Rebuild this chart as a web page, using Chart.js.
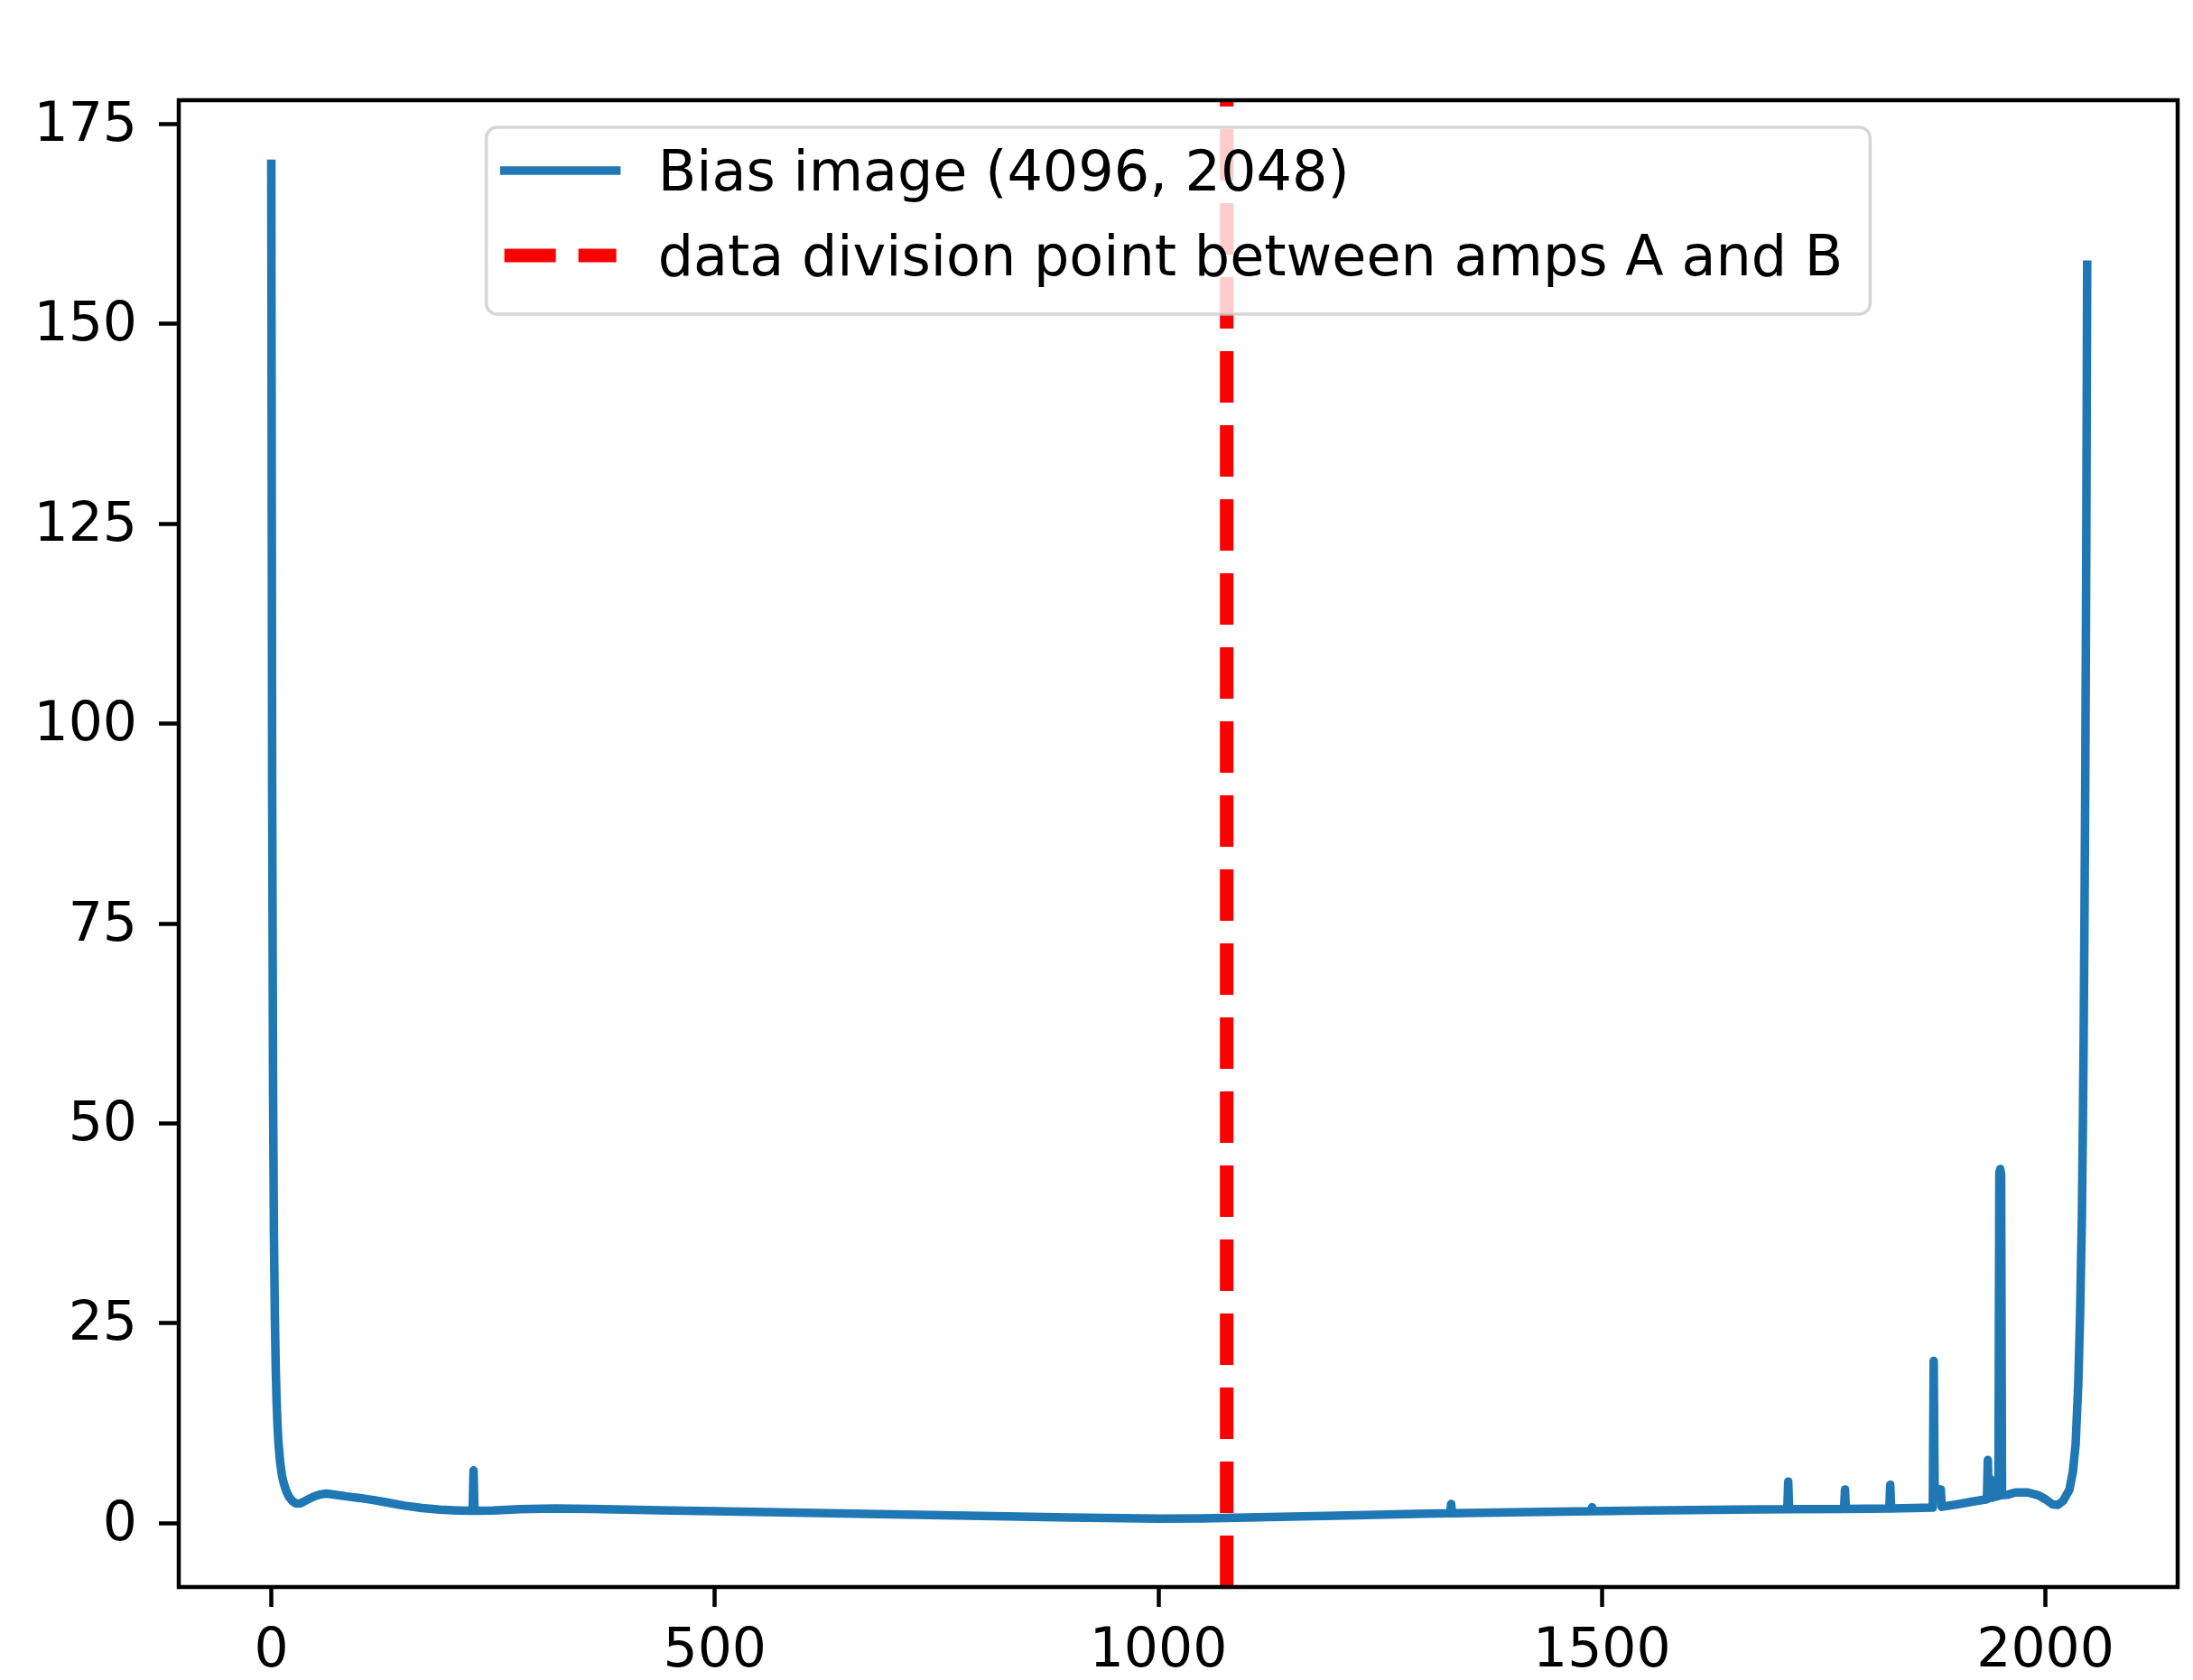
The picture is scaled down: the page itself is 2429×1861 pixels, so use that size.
<!DOCTYPE html>
<html>
<head>
<meta charset="utf-8">
<title>Bias image column profile</title>
<script src="https://cdn.jsdelivr.net/npm/chart.js@4.4.0/dist/chart.umd.min.js"></script>
<style>
body{margin:0;background:#fff;}
canvas{display:block;}
</style>
</head>
<body>
<canvas id="bias-chart" width="2429" height="1861"></canvas>
<script>
//column index along the 2048 axis of the bias frame
var columns=[0,1,2,3,4,5,6,7,8,10,12,14,17,20,24,28,33,40,48,55,62,70,85,100,115,130,150,170,190,210,
    227,228,229,250,280,320,360,400,450,500,600,700,800,900,1000,1050,1100,1200,1300,
    1329,1330,1331,1400,1488,1489,1490,1550,1650,1709,1710,1711,1773,1774,1775,1824,1825,1826,1850,
    1873,1874,1875,1882,1883,1900,1920,1934,1935,1936,1938,1940,1947,1948,1949,1950,1951,
    1957,1966,1980,1992,2000,2008,2014,2020,2027,2031,2034,2037,2039,2041,2042,2043,2044,2045,2046,2047];
//mean bias counts of each column
var meanCounts=[170.0,92,54,36,26,19.5,15.2,12.3,10.2,7.6,6.0,5.0,4.0,3.3,2.75,2.45,2.5,2.9,3.35,3.6,3.7,3.6,3.35,3.15,2.9,2.6,2.2,1.9,1.7,1.6,
    1.55,6.6,1.55,1.6,1.75,1.85,1.8,1.7,1.6,1.5,1.3,1.1,0.9,0.7,0.58,0.6,0.72,0.95,1.2,
    1.25,2.4,1.25,1.35,1.5,2.0,1.5,1.6,1.7,1.75,5.2,1.75,1.8,4.2,1.8,1.85,4.8,1.85,1.9,
    1.95,20.3,4.4,4.2,2.05,2.35,2.75,3.0,7.9,3.1,5.5,3.2,3.4,43.8,44.3,43.6,3.5,
    3.55,3.85,3.85,3.5,3.0,2.35,2.3,2.8,4.2,6.5,9.9,17.5,26,38,48,60,76,96,122,157.4];
//column where the readout switches from amp A to amp B
var divisionColumn=1077;

var xTicks=[0,500,1000,1500,2000];
var yTicks=[0,25,50,75,100,125,150,175];
var xRange=[-104.3,2149];
var yRange=[-7.98,177.97];

var fontFamily='"DejaVu Sans", sans-serif';

//pair up columns and counts for the line
function biasPoints(){
    var pts=[];
    for(var i=0;i<columns.length;i++){
        pts.push({x:columns[i],y:meanCounts[i]});
    }
    return pts;
}

//rounded rectangle path for the legend box
function roundRect(ctx,x,y,w,h,r){
    ctx.beginPath();
    ctx.moveTo(x+r,y);
    ctx.lineTo(x+w-r,y);
    ctx.arcTo(x+w,y,x+w,y+r,r);
    ctx.lineTo(x+w,y+h-r);
    ctx.arcTo(x+w,y+h,x+w-r,y+h,r);
    ctx.lineTo(x+r,y+h);
    ctx.arcTo(x,y+h,x,y+h-r,r);
    ctx.lineTo(x,y+r);
    ctx.arcTo(x,y,x+r,y,r);
    ctx.closePath();
}

//box around the plot area, then the legend on top of it
var frameAndLegend={
    id:'frameAndLegend',
    afterDatasetsDraw:function(chart){
        var ctx=chart.ctx;
        var area=chart.chartArea;
        ctx.save();
        ctx.lineWidth=4.5;
        ctx.strokeStyle='#000';
        ctx.strokeRect(area.left,area.top,area.right-area.left,area.bottom-area.top);

        var sets=chart.data.datasets;
        ctx.font='62px '+fontFamily;
        var maxW=0;
        for(var i=0;i<sets.length;i++){
            maxW=Math.max(maxW,ctx.measureText(sets[i].label).width);
        }
        var boxW=190+maxW+30;
        var boxH=207;
        var left=(area.left+area.right)/2-boxW/2;
        var top=area.top+30;
        roundRect(ctx,left,top,boxW,boxH,12);
        ctx.fillStyle='rgba(255,255,255,0.8)';
        ctx.fill();
        ctx.lineWidth=3.5;
        ctx.strokeStyle='rgba(204,204,204,0.8)';
        ctx.stroke();

        for(var j=0;j<sets.length;j++){
            var s=sets[j];
            var y=top+48+j*94;
            ctx.beginPath();
            ctx.setLineDash(s.borderDash||[]);
            ctx.lineCap=s.borderDash?'butt':'square';
            ctx.lineWidth=s.borderWidth;
            ctx.strokeStyle=s.borderColor;
            ctx.moveTo(left+20,y);
            ctx.lineTo(left+144,y);
            ctx.stroke();
            ctx.setLineDash([]);
            ctx.fillStyle='#000';
            ctx.textBaseline='alphabetic';
            ctx.textAlign='left';
            ctx.fillText(s.label,left+190,y+22);
        }
        ctx.restore();
    }
};

var tickGrid={drawOnChartArea:false,drawTicks:true,tickLength:22,tickWidth:4.5,tickColor:'#000'};

var chart=new Chart(document.getElementById('bias-chart'),{
    type:'line',
    data:{
        datasets:[{
            label:'Bias image (4096, 2048)',
            data:biasPoints(),
            borderColor:'#1f77b4',
            borderWidth:9.5,
            borderJoinStyle:'round',
            borderCapStyle:'square',
            pointRadius:0,
            tension:0,
            fill:false,
            clip:0,
            order:1
        },{
            label:'data division point between amps A and B',
            data:[{x:divisionColumn,y:yRange[0]},{x:divisionColumn,y:yRange[1]}],
            borderColor:'#ff0000',
            borderWidth:15,
            borderDash:[57,25],
            borderCapStyle:'butt',
            pointRadius:0,
            fill:false,
            clip:0,
            order:0
        }]
    },
    options:{
        responsive:false,
        animation:false,
        devicePixelRatio:1,
        layout:{padding:{top:111,right:17,left:0,bottom:0}},
        plugins:{legend:{display:false},tooltip:{enabled:false}},
        scales:{
            x:{
                type:'linear',
                min:xRange[0],
                max:xRange[1],
                afterBuildTicks:function(scale){scale.ticks=xTicks.map(function(v){return {value:v};});},
                afterFit:function(scale){scale.height=103;},
                border:{display:false},
                grid:tickGrid,
                ticks:{
                    font:{family:fontFamily,size:60},
                    color:'#000',
                    padding:14,
                    maxRotation:0,
                    autoSkip:false,
                    callback:function(v){return String(v);}
                }
            },
            y:{
                type:'linear',
                min:yRange[0],
                max:yRange[1],
                afterBuildTicks:function(scale){scale.ticks=yTicks.map(function(v){return {value:v};});},
                afterFit:function(scale){scale.width=198;},
                border:{display:false},
                grid:tickGrid,
                ticks:{
                    font:{family:fontFamily,size:60},
                    color:'#000',
                    padding:24,
                    labelOffset:3,
                    autoSkip:false,
                    callback:function(v){return String(v);}
                }
            }
        }
    },
    plugins:[frameAndLegend]
});
</script>
</body>
</html>
